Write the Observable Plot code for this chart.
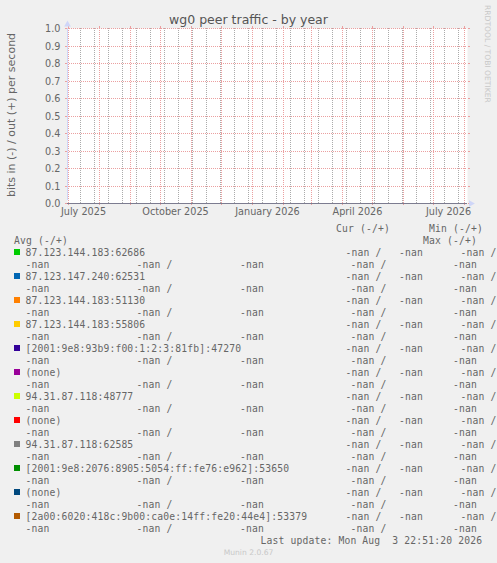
<!DOCTYPE html>
<html>
<head>
<meta charset="utf-8">
<script src="https://cdn.jsdelivr.net/npm/d3@7"></script>
<script src="https://cdn.jsdelivr.net/npm/@observablehq/plot@0.6"></script>
<style>
  html, body { margin: 0; padding: 0; background: #f0f0f0; }
  #wrap { position: relative; width: 497px; height: 563px; overflow: hidden; background: #f0f0f0; }
  #wrap > svg { position: absolute; left: 0; top: 0; }
  .mono { font-family: "DejaVu Sans Mono", monospace; font-size: 9.7px; letter-spacing: 0.16px; fill: #666; white-space: pre; }
</style>
</head>
<body>
<div id="wrap"></div>
<script>
// ---- data ----
const title = "wg0 peer traffic - by year";
const yLabel = "bits in (-) / out (+) per second";
const rangeStart = "2025-06-29T22:51:20Z";
const rangeEnd = "2026-08-03T22:51:20Z";
const yTicks = [0.0, 0.1, 0.2, 0.3, 0.4, 0.5, 0.6, 0.7, 0.8, 0.9, 1.0];
const monthStarts = ["2025-07-01","2025-08-01","2025-09-01","2025-10-01","2025-11-01","2025-12-01",
  "2026-01-01","2026-02-01","2026-03-01","2026-04-01","2026-05-01","2026-06-01","2026-07-01","2026-08-01"];
const minorGrid = ["2025-07-13","2025-07-27","2025-08-10","2025-08-24","2025-09-07","2025-09-21","2025-10-05",
  "2025-10-19","2025-11-02","2025-11-16","2025-11-30","2025-12-14","2025-12-28","2026-01-11","2026-01-25",
  "2026-02-08","2026-02-22","2026-03-08","2026-03-22","2026-04-05","2026-04-19","2026-05-03","2026-05-17",
  "2026-05-31","2026-06-14","2026-06-28","2026-07-12","2026-07-26"];
const labelMonths = ["2025-07-01","2025-10-01","2026-01-01","2026-04-01","2026-07-01"];
const labelTexts = ["July 2025","October 2025","January 2026","April 2026","July 2026"];

const peers = ["87.123.144.183:62686","87.123.147.240:62531","87.123.144.183:51130","87.123.144.183:55806",
  "[2001:9e8:93b9:f00:1:2:3:81fb]:47270","(none)","94.31.87.118:48777","(none)","94.31.87.118:62585",
  "[2001:9e8:2076:8905:5054:ff:fe76:e962]:53650","(none)","[2a00:6020:418c:9b00:ca0e:14ff:fe20:44e4]:53379"];
const colors = ["#00CC00","#0066B3","#FF8000","#FFCC00","#330099","#990099","#CCFF00","#FF0000","#808080",
  "#008F00","#00487D","#B35A00"];
const curIn  = [NaN,NaN,NaN,NaN,NaN,NaN,NaN,NaN,NaN,NaN,NaN,NaN];
const curOut = [NaN,NaN,NaN,NaN,NaN,NaN,NaN,NaN,NaN,NaN,NaN,NaN];
const minIn  = [NaN,NaN,NaN,NaN,NaN,NaN,NaN,NaN,NaN,NaN,NaN,NaN];
const minOut = [NaN,NaN,NaN,NaN,NaN,NaN,NaN,NaN,NaN,NaN,NaN,NaN];
const avgIn  = [NaN,NaN,NaN,NaN,NaN,NaN,NaN,NaN,NaN,NaN,NaN,NaN];
const avgOut = [NaN,NaN,NaN,NaN,NaN,NaN,NaN,NaN,NaN,NaN,NaN,NaN];
const maxIn  = [NaN,NaN,NaN,NaN,NaN,NaN,NaN,NaN,NaN,NaN,NaN,NaN];
const maxOut = [NaN,NaN,NaN,NaN,NaN,NaN,NaN,NaN,NaN,NaN,NaN,NaN];
const lastUpdate = "Last update: Mon Aug  3 22:51:20 2026";
const watermark = "RRDTOOL / TOBI OETIKER";
const footer = "Munin 2.0.67";

// ---- chart ----
const start = new Date(rangeStart), end = new Date(rangeEnd);
const months = monthStarts.map(d => new Date(d + "T00:00:00Z"));
const minors = minorGrid.map(d => new Date(d + "T00:00:00Z"));
const labelDates = labelMonths.map(d => d3.utcDay.offset(new Date(d + "T00:00:00Z"), 15));
const labelMap = new Map(labelDates.map((d, i) => [+d, labelTexts[i]]));
const MG = "#eba0a0", GR = "#ababab", AX = "#CFD6F8";
const dotted = {strokeDasharray: "1,1", shapeRendering: "crispEdges"};

const chart = Plot.plot({
  width: 497, height: 222,
  marginLeft: 67, marginRight: 30, marginTop: 28, marginBottom: 19,
  style: {background: "transparent", fontFamily: "DejaVu Sans", fontSize: "9.7px", color: "#666", overflow: "visible"},
  x: {type: "utc", domain: [start, end], round: true},
  y: {domain: [0, 1], round: true},
  marks: [
    Plot.frame({fill: "white", stroke: "none"}),
    Plot.ruleX(minors, {y1: 0, y2: 1, stroke: GR, ...dotted}),
    Plot.ruleX(months, {y1: 0, y2: 1, stroke: MG, ...dotted}),
    Plot.ruleY(yTicks.filter(v => v > 0), {stroke: MG, ...dotted}),
    // small solid ticks outside the canvas
    Plot.ruleX(months, {y1: 0, y2: 0, insetBottom: -2, stroke: MG, shapeRendering: "crispEdges"}),
    Plot.ruleX(months, {y1: 1, y2: 1, insetTop: -2, stroke: MG, shapeRendering: "crispEdges"}),
    Plot.axisY({ticks: yTicks, tickSize: 2, tickPadding: 5, stroke: MG, fill: "#666",
      tickFormat: d3.format(".1f"), label: null}),
    Plot.axisY({anchor: "right", ticks: yTicks, tickSize: 2, stroke: MG, tickFormat: () => "", label: null}),
    Plot.axisX({ticks: labelDates, tickSize: 0, tickPadding: 5, fill: "#666",
      tickFormat: d => labelMap.get(+d), label: null}),
    Plot.ruleX([start], {y1: 0, y2: 1, stroke: AX, insetTop: -3}),
    Plot.ruleY([0], {stroke: "#7c7c90"}),
    Plot.dot([{x: start, y: 1}], {x: "x", y: "y", symbol: "triangle", r: 2.5, fill: AX, stroke: "none", dy: -4}),
    Plot.dot([{x: end, y: 0}], {x: "x", y: "y", symbol: "triangle", r: 2.5, fill: AX, stroke: "none", rotate: 90, dx: 3.5})
  ]
});
const wrap = document.getElementById("wrap");
wrap.appendChild(chart);

// ---- overlay texts & legend ----
const svg = d3.select(wrap).append("svg").attr("width", 497).attr("height", 563);
svg.append("text").attr("x", 248.5).attr("y", 23.5).attr("text-anchor", "middle")
  .style("font-family", "DejaVu Sans").style("font-size", "12.5px").style("fill", "#555").text(title);
svg.append("text").attr("transform", "translate(14.5,115) rotate(-90)").attr("text-anchor", "middle")
  .style("font-family", "DejaVu Sans").style("font-size", "11px").style("fill", "#666").text(yLabel);
svg.append("text").attr("transform", "translate(484.5,5) rotate(90)").attr("text-anchor", "start")
  .style("font-family", "DejaVu Sans").style("font-size", "7.6px").style("fill", "#c8c8c8").text(watermark);

const lineY = k => 228 + 12 * k + 3.5;
const fmt = v => (isNaN(v) ? "-nan" : d3.format(".2f")(v));
function t(x, k, s) {
  svg.append("text").attr("class", "mono").attr("x", x).attr("y", lineY(k)).text(s);
}
t(336, 0, "Cur (-/+)");
t(429, 0, "Min (-/+)");
t(14, 1, "Avg (-/+)");
t(423, 1, "Max (-/+)");
peers.forEach((p, i) => {
  const k = 2 + 2 * i;
  svg.append("rect").attr("x", 14).attr("y", 228 + 12 * k - 3).attr("width", 6).attr("height", 6).attr("fill", colors[i]);
  t(25.5, k, p);
  t(345.5, k, fmt(curIn[i]) + " /");
  t(399, k, fmt(curOut[i]));
  t(460.5, k, fmt(minIn[i]) + " /");
  t(25.5, k + 1, fmt(minOut[i]));
  t(136.5, k + 1, fmt(avgIn[i]) + " /");
  t(240, k + 1, fmt(avgOut[i]));
  t(350.5, k + 1, fmt(maxIn[i]) + " /");
  t(453, k + 1, fmt(maxOut[i]));
});
t(260.5, 26, lastUpdate);
svg.append("text").attr("x", 248.5).attr("y", 555).attr("text-anchor", "middle")
  .style("font-family", "DejaVu Sans").style("font-size", "7.6px").style("fill", "#c8c8c8").text(footer);
</script>
</body>
</html>
